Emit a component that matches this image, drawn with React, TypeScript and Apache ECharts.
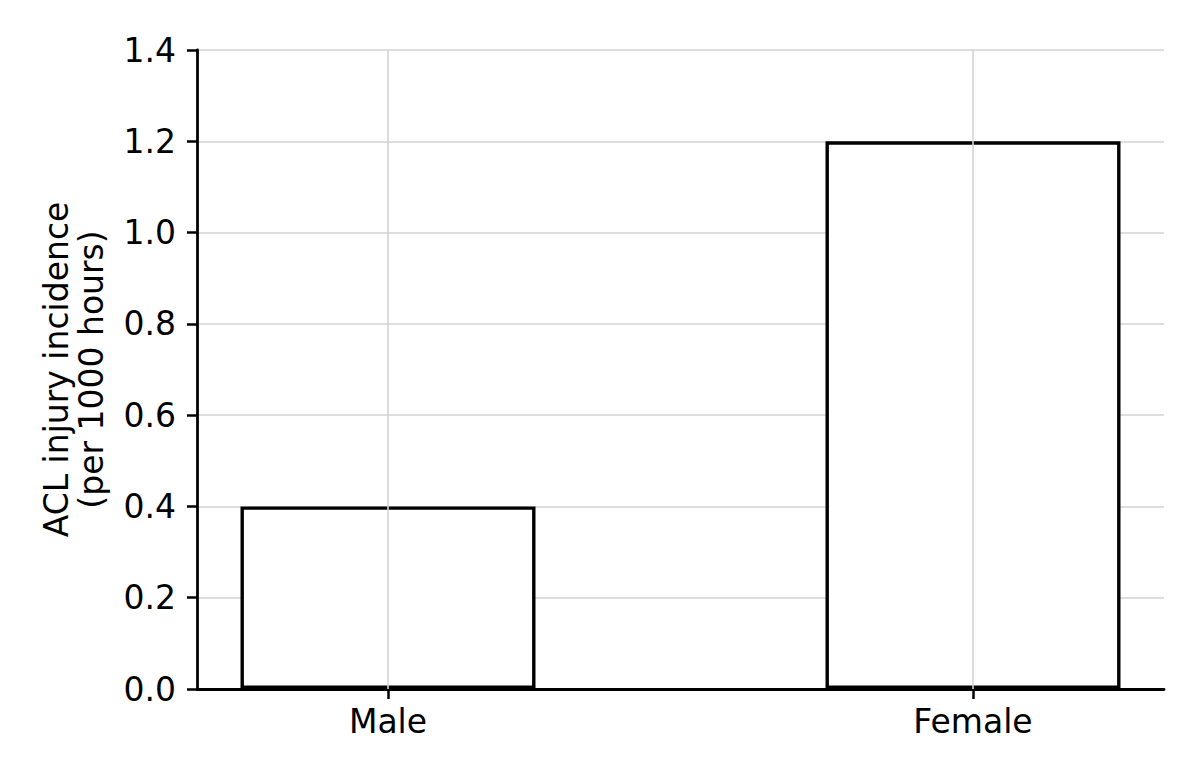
import React, { useEffect, useRef } from "react";
import * as echarts from "echarts";

const categories = ["Male", "Female"];
const values = [0.4, 1.2];
const yLabel = "ACL injury incidence\n(per 1000 hours)";

const FONT = "DejaVu Sans";
const FS = 33;

export default function App() {
  const ref = useRef<HTMLDivElement>(null);
  useEffect(() => {
    if (!ref.current) return;
    const chart = echarts.init(ref.current, undefined, { renderer: "svg" });
    const positions = categories.map((_, i) => i);
    chart.setOption({
      animation: false,
      backgroundColor: "#ffffff",
      grid: { left: 197, right: 36, top: 50, bottom: 91, containLabel: false },
      xAxis: {
        type: "value",
        min: -0.3265,
        max: 1.3265,
        axisLine: { show: true, onZero: false, lineStyle: { color: "#000", width: 2.8 } },
        axisTick: {
          show: true,
          length: 10,
          customValues: positions,
          lineStyle: { color: "#000", width: 2.5 },
        },
        axisLabel: {
          show: true,
          customValues: positions,
          formatter: (v: number) => categories[Math.round(v)] ?? "",
          color: "#000",
          fontFamily: FONT,
          fontSize: FS,
          margin: 16,
        },
        splitLine: { show: false },
      },
      yAxis: {
        type: "value",
        min: 0,
        max: 1.4,
        interval: 0.2,
        axisLine: { show: true, onZero: false, lineStyle: { color: "#000", width: 2.8 } },
        axisTick: { show: true, length: 10, lineStyle: { color: "#000", width: 2.5 } },
        axisLabel: {
          color: "#000",
          fontFamily: FONT,
          fontSize: FS,
          margin: 21,
          formatter: (v: number) => v.toFixed(1),
        },
        splitLine: { show: true, lineStyle: { color: "#d3d3d3", width: 1.6 } },
      },
      graphic: [
        {
          type: "text",
          x: 74,
          y: 369.5,
          rotation: Math.PI / 2,
          style: {
            text: yLabel,
            fontFamily: FONT,
            fontSize: FS,
            lineHeight: 35,
            fill: "#000",
            align: "center",
            verticalAlign: "middle",
          },
        },
      ],
      series: [
        {
          type: "scatter",
          data: positions.map((p) => [p, 0]),
          symbolSize: 0,
          silent: true,
          z: 1,
          markLine: {
            silent: true,
            symbol: "none",
            label: { show: false },
            lineStyle: { color: "#d3d3d3", width: 1.6, type: "solid" },
            data: positions.map((p) => ({ xAxis: p })),
          },
        },
        {
          type: "bar",
          data: values.map((v, i) => [positions[i], v]),
          barWidth: 295,
          z: 3,
          itemStyle: { color: "#ffffff", borderColor: "#000", borderWidth: 3.4 },
        },
      ],
    });
    return () => chart.dispose();
  }, []);
  return (
    <div
      ref={ref}
      style={{ position: "absolute", left: 0, top: 0, width: 1200, height: 780 }}
    />
  );
}
